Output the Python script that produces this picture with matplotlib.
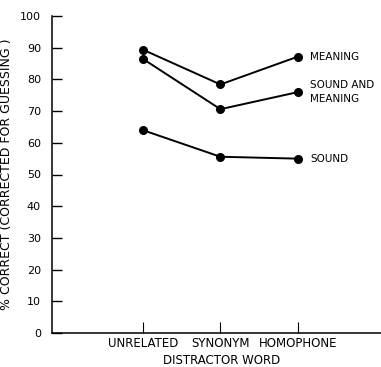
import matplotlib
matplotlib.use("Agg")
import matplotlib.pyplot as plt

categories = ["UNRELATED", "SYNONYM", "HOMOPHONE"]
meaning = [89.4, 78.4, 87.2]
sound_meaning = [86.5, 70.6, 76.0]
sound = [64.0, 55.6, 55.0]
series = [(meaning, "MEANING"), (sound_meaning, "SOUND AND\nMEANING"), (sound, "SOUND")]
yticks = [0, 10, 20, 30, 40, 50, 60, 70, 80, 90, 100]

plt.rcParams['font.family'] = 'DejaVu Sans'
fig = plt.figure(figsize=(3.81, 3.67), dpi=100)
ax = fig.add_axes([52/381, 1 - 333/367, 1 - 52/381, 317/367])

x = list(range(len(categories)))
for vals, name in series:
    ax.plot(x, vals, color='black', lw=1.4, marker='o', markersize=5.5)
    ax.text(x[-1] + 0.16, vals[-1], name, fontsize=7.5, va='center', ha='left',
            linespacing=1.5)

ax.set_xlim(-1.17, 3.07)
ax.set_ylim(0, 100)
ax.set_yticks(yticks)
ax.set_yticklabels([str(v) for v in yticks], fontsize=8)
ax.set_xticks(x)
ax.set_xticklabels(categories, fontsize=8.5)
ax.tick_params(axis='y', direction='in', length=7, width=1, pad=8)
ax.tick_params(axis='x', direction='in', length=8, width=0.8, pad=3)
for s in ['top', 'right']:
    ax.spines[s].set_visible(False)
ax.spines['left'].set_linewidth(1.1)
ax.spines['bottom'].set_linewidth(1.1)

ax.set_xlabel("DISTRACTOR WORD", fontsize=8.5)
ax.xaxis.set_label_coords((222 - 52) / 329, -(354 - 333) / 317)
ax.set_ylabel("% CORRECT (CORRECTED FOR GUESSING )", fontsize=9)
ax.yaxis.set_label_coords((13 - 52) / 329, 0.5)

fig.savefig("out.png", dpi=100)
